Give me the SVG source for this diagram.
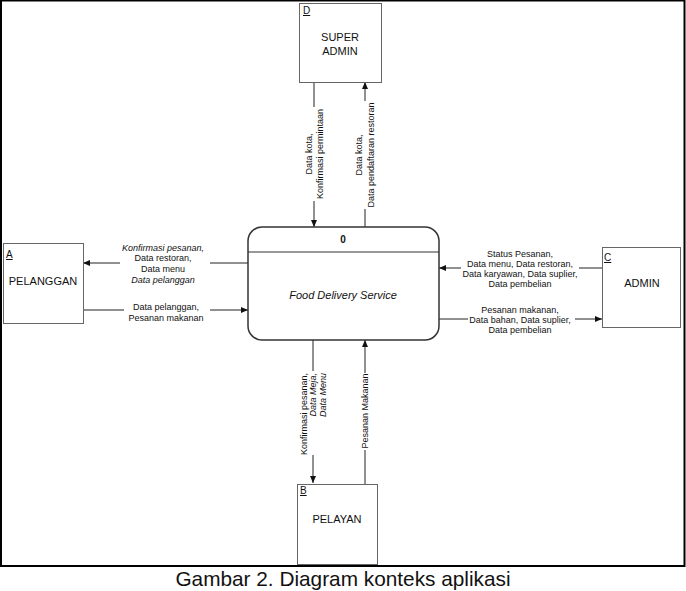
<svg xmlns="http://www.w3.org/2000/svg" width="686" height="591" viewBox="0 0 686 591">
<style>
text{font-family:"Liberation Sans",Arial,sans-serif;fill:#111}
.box{fill:#fff;stroke:#666;stroke-width:1}
.id{font-size:10px;text-decoration:underline}
.name{font-size:11px;text-anchor:middle}
.lbl{font-size:9px;text-anchor:middle}
.it{font-style:italic}
.flow{fill:none;stroke:#222;stroke-width:1;marker-end:url(#ah)}
.bg{fill:#fff}
</style>
<defs>
<marker id="ah" markerUnits="userSpaceOnUse" markerWidth="8" markerHeight="6" refX="7" refY="3" orient="auto">
<path d="M0,0 L7,3 L0,6 Z" fill="#111"/>
</marker>
</defs>
<rect x="1" y="0.5" width="683.5" height="565.5" fill="#fff" stroke="#000" stroke-width="2"/>

<g id="connectors">
<path class="flow" d="M314,82 V227"/>
<path class="flow" d="M365,227 V82"/>
<path class="flow" d="M248,263 H83"/>
<path class="flow" d="M83,310 H248"/>
<path class="flow" d="M602,268 H439"/>
<path class="flow" d="M439,319 H602"/>
<path class="flow" d="M313,340 V483"/>
<path class="flow" d="M365,484 V340"/>

<rect class="bg" x="304" y="107" width="22" height="94"/>
<text class="lbl" transform="translate(314,154) rotate(-90)"><tspan x="0" y="-2">Data kota,</tspan><tspan x="0" y="9">Konfirmasi permintaan</tspan></text>
<rect class="bg" x="354" y="101" width="22" height="108"/>
<text class="lbl" transform="translate(365,155) rotate(-90)"><tspan x="0" y="-3">Data kota,</tspan><tspan x="0" y="8.5">Data pendaftaran restoran</tspan></text>

<rect class="bg" x="120" y="241" width="90" height="44"/>
<text class="lbl"><tspan class="it" x="163" y="250.5">Konfirmasi pesanan,</tspan><tspan x="163" y="261.2">Data restoran,</tspan><tspan x="163" y="271.9">Data menu</tspan><tspan class="it" x="163" y="282.6">Data pelanggan</tspan></text>
<rect class="bg" x="124" y="300" width="86" height="23"/>
<text class="lbl"><tspan x="166" y="309.5">Data pelanggan,</tspan><tspan x="166" y="320.5">Pesanan makanan</tspan></text>

<rect class="bg" x="461" y="246" width="118" height="43"/>
<text class="lbl"><tspan x="520" y="256.5">Status Pesanan,</tspan><tspan x="520" y="266.5">Data menu, Data restoran,</tspan><tspan x="520" y="276.5">Data karyawan, Data suplier,</tspan><tspan x="520" y="286.5">Data pembelian</tspan></text>
<rect class="bg" x="468" y="301" width="107" height="34"/>
<text class="lbl"><tspan x="520" y="312.5">Pesanan makanan,</tspan><tspan x="520" y="322.5">Data bahan, Data suplier,</tspan><tspan x="520" y="332.5">Data pembelian</tspan></text>

<rect class="bg" x="299" y="371" width="29" height="84"/>
<text class="lbl" style="text-anchor:end" transform="translate(313,373) rotate(-90)"><tspan x="0" y="-6.5">Konfirmasi pesanan,</tspan><tspan class="it" x="0" y="3">Data Meja,</tspan><tspan class="it" x="0" y="12.5">Data Menu</tspan></text>
<rect class="bg" x="359" y="373" width="12" height="77"/>
<text class="lbl" transform="translate(365,411) rotate(-90)"><tspan x="0" y="3">Pesanan Makanan</tspan></text>
</g>

<g id="node-D">
<rect class="box" x="299.5" y="3.5" width="82" height="79"/>
<text class="id" x="303" y="14">D</text>
<text class="name" x="340" y="41">SUPER</text>
<text class="name" x="340" y="55">ADMIN</text>
</g>

<g id="node-A">
<rect class="box" x="3.5" y="243.5" width="80" height="80"/>
<text class="id" x="6" y="258">A</text>
<text class="name" x="43" y="285">PELANGGAN</text>
</g>

<g id="node-C">
<rect class="box" x="602.5" y="247.5" width="78" height="80"/>
<text class="id" x="604" y="261">C</text>
<text class="name" x="642" y="287">ADMIN</text>
</g>

<g id="node-B">
<rect class="box" x="297.5" y="484.5" width="80" height="80"/>
<text class="id" x="300" y="494">B</text>
<text class="name" x="337" y="523">PELAYAN</text>
</g>

<g id="node-0">
<rect x="248" y="227" width="191" height="113" rx="14" ry="14" fill="#fff" stroke="#333" stroke-width="1.5"/>
<line x1="248" y1="252" x2="439" y2="252" stroke="#333" stroke-width="1.2"/>
<text x="343" y="243" style="font-size:10px;font-weight:bold;text-anchor:middle">0</text>
<text class="name it" x="343" y="299">Food Delivery Service</text>
</g>

<text x="343" y="586" style="font-size:20.8px;text-anchor:middle">Gambar 2. Diagram konteks aplikasi</text>
</svg>
